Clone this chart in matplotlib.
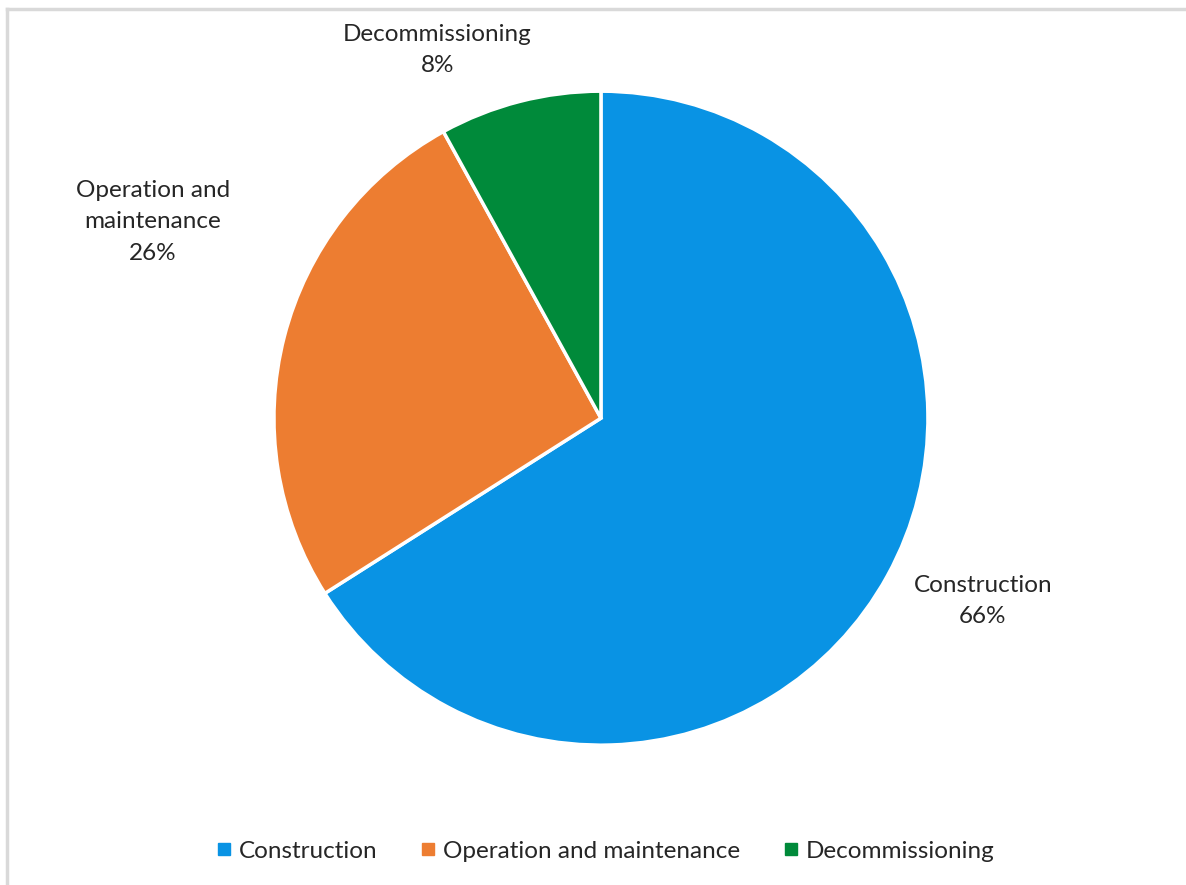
import matplotlib
matplotlib.use('Agg')
import matplotlib.pyplot as plt
from matplotlib.lines import Line2D

# Dane wykresu
categories = ['Construction', 'Operation and maintenance', 'Decommissioning']
label_texts = ['Construction\n66%', 'Operation and\nmaintenance\n26%', 'Decommissioning\n8%']
shares = [66, 26, 8]
colors = ['#0993E4', '#ED7D31', '#008A3A']

plt.rcParams['font.family'] = ['Lato', 'DejaVu Sans']
text_color = '#262626'

fig = plt.figure(figsize=(11.86, 8.85), dpi=100)
ax = fig.add_axes([0.231, 0.158, 0.5514, 0.739])

wedges, _ = ax.pie(shares, colors=colors, startangle=90, counterclock=False,
                   wedgeprops=dict(edgecolor='white', linewidth=2.5))
ax.set_xlim(-1, 1)
ax.set_ylim(-1, 1)
ax.set_aspect('equal')

# Pozycje etykiet (w jednostkach promienia)
label_pos = [(1.168, -0.56), (-1.37, 0.60), (-0.50, 1.125)]
for txt, (lx, ly) in zip(label_texts, label_pos):
    ax.text(lx, ly, txt, ha='center', va='center', fontsize=17.5,
            color=text_color, linespacing=1.6, clip_on=False)

# Legenda
handles = [Line2D([0], [0], marker='s', linestyle='none', markersize=8,
                  markerfacecolor=c, markeredgecolor=c) for c in colors]
fig.legend(handles, categories, loc='center', bbox_to_anchor=(0.511, 0.0384),
           ncol=3, frameon=False, fontsize=17.5, handlelength=0.5,
           handletextpad=0.35, columnspacing=1.85, labelcolor=text_color)

# Ramka (tylko lewa i górna krawędź widoczna)
fig.add_artist(Line2D([0.0062, 0.0062], [0, 0.9898], transform=fig.transFigure,
                      color='#D9D9D9', linewidth=2.5))
fig.add_artist(Line2D([0.0062, 1], [0.9898, 0.9898], transform=fig.transFigure,
                      color='#D9D9D9', linewidth=2.5))

fig.savefig('out.png', dpi=100, facecolor='white')
